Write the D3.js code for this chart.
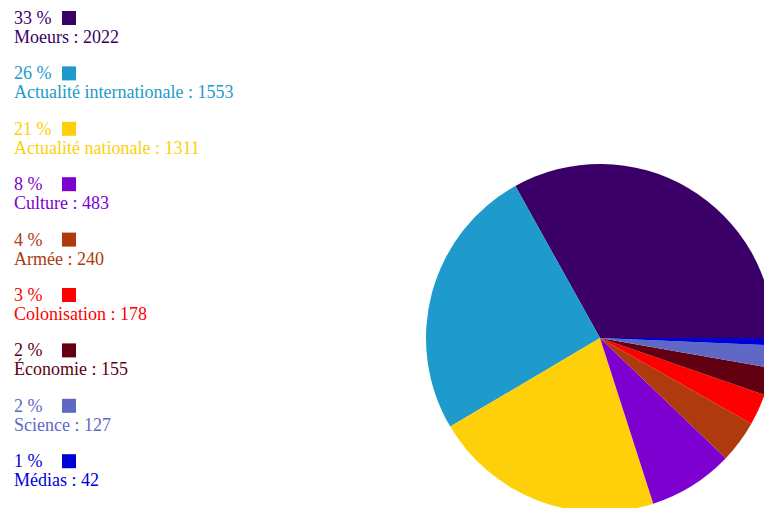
<!DOCTYPE html>
<html>
<head>
<meta charset="utf-8">
<script src="https://cdn.jsdelivr.net/npm/d3@7"></script>
<style>
  html, body { margin: 0; padding: 0; background: #fff; }
  svg { display: block; }
  .legend text { font-family: "Liberation Serif", "Times New Roman", serif; font-size: 18px; }
</style>
</head>
<body>
<div id="chart"></div>
<script>
// données
const categories = ['Moeurs', 'Actualité internationale', 'Actualité nationale', 'Culture',
    'Armée', 'Colonisation', 'Économie', 'Science', 'Médias'];
const values = [2022, 1553, 1311, 483, 240, 178, 155, 127, 42];
const percentLabels = ['33 %', '26 %', '21 %', '8 %', '4 %', '3 %', '2 %', '2 %', '1 %'];
const colors = ['#3a0068', '#1e9acc', '#fdd00a', '#7d00d0', '#ae3a0e', '#fe0000',
    '#620012', '#6068c6', '#0000d6'];

const width = 764, height = 508;
const cx = 600, cy = 338, radius = 174;

const svg = d3.select('#chart').append('svg')
    .attr('width', width)
    .attr('height', height);

// camembert : départ à 3 heures, sens anti-horaire
const pie = d3.pie()
    .sort(null)
    .value(d => d)
    .startAngle(Math.PI / 2)
    .endAngle(Math.PI / 2 - 2 * Math.PI);

const arc = d3.arc().innerRadius(0).outerRadius(radius);

svg.append('g')
    .attr('transform', `translate(${cx},${cy})`)
    .selectAll('path')
    .data(pie(values))
    .enter()
    .append('path')
    .attr('d', arc)
    .attr('fill', (d, i) => colors[i]);

// légende
const step = 55.4;
const legend = svg.append('g').attr('class', 'legend');

const items = legend.selectAll('g')
    .data(categories)
    .enter()
    .append('g')
    .attr('transform', (d, i) => `translate(14, ${i * step})`);

items.append('text')
    .attr('x', 0)
    .attr('y', 24)
    .attr('fill', (d, i) => colors[i])
    .text((d, i) => percentLabels[i]);

items.append('rect')
    .attr('x', 48)
    .attr('y', 11)
    .attr('width', 14)
    .attr('height', 14)
    .attr('fill', (d, i) => colors[i]);

items.append('text')
    .attr('x', 0)
    .attr('y', 43)
    .attr('fill', (d, i) => colors[i])
    .text((d, i) => `${d} : ${values[i]}`);
</script>
</body>
</html>
